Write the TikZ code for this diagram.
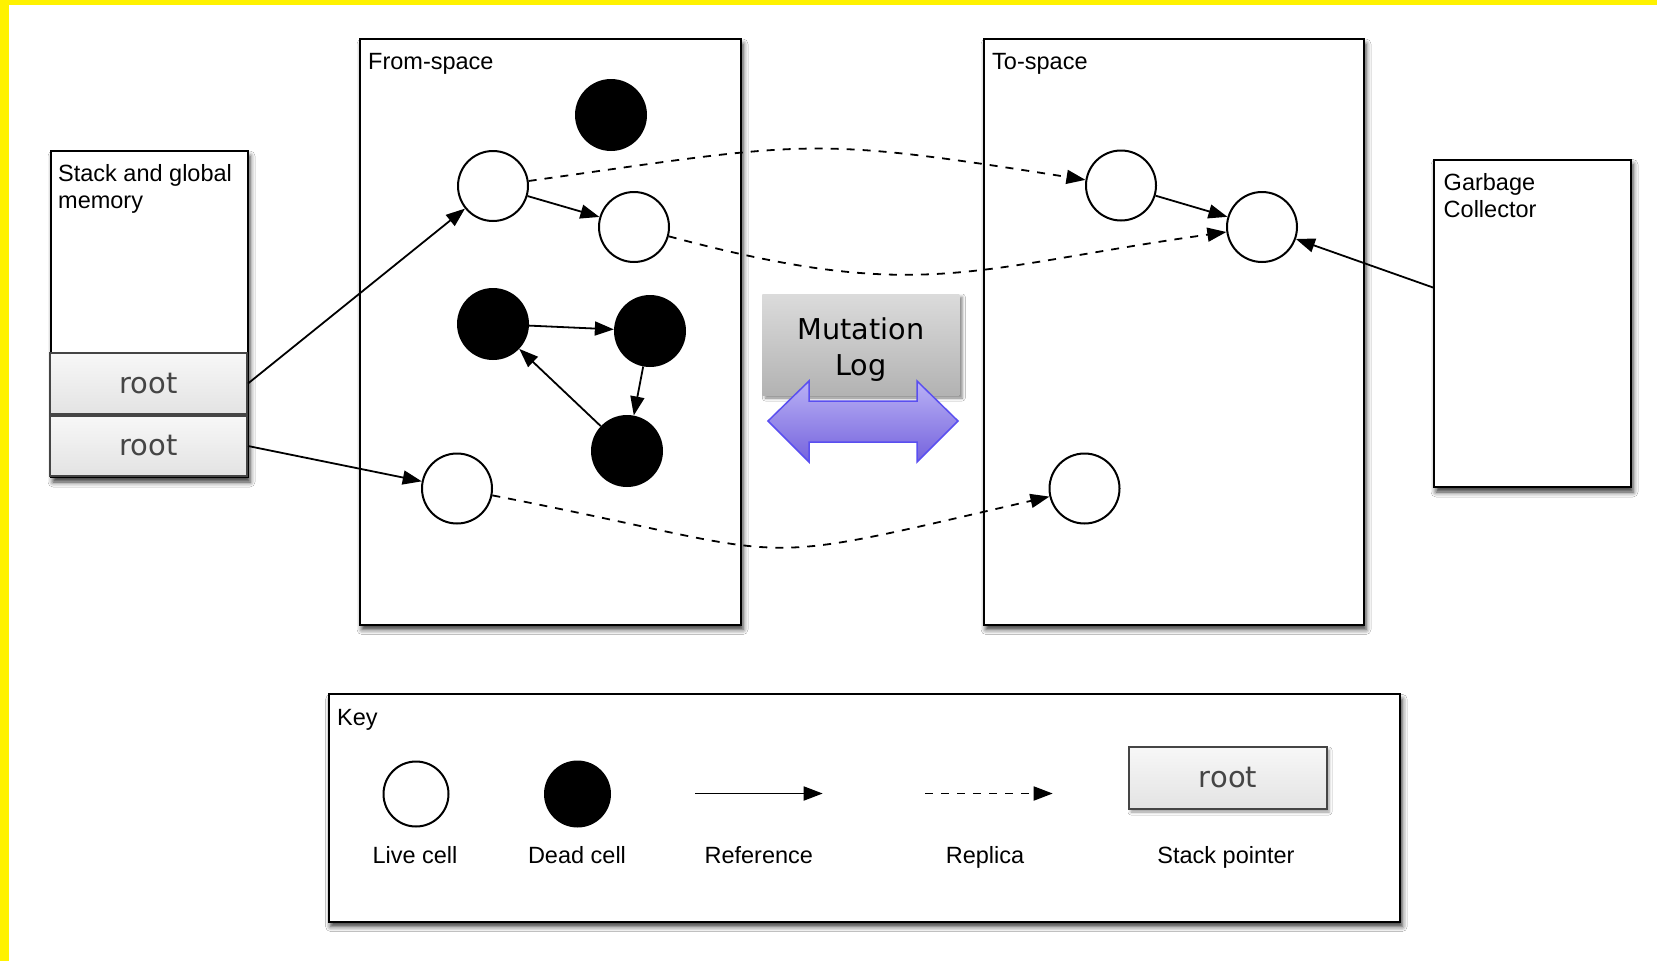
\documentclass[tikz,border=0pt]{standalone}
\usepackage{fontspec}
\setmainfont{Liberation Sans}
\newfontfamily\logfont{DejaVu Sans}
\usetikzlibrary{arrows.meta,calc,shadows.blur}

\definecolor{rootgray}{HTML}{454545}
\definecolor{logline}{HTML}{5A4FF0}
\definecolor{logtop}{HTML}{B9B1F5}
\definecolor{logbot}{HTML}{7563DD}

\begin{document}
\begin{tikzpicture}[x=1pt,y=-1pt,
	every node/.style={font=\fontsize{23.5}{27.5}\selectfont},
	space/.style={draw,line width=2pt,fill=white,anchor=north west,inner sep=0pt,
		blur shadow={shadow xshift=2pt,shadow yshift=-5pt,shadow blur radius=5pt,shadow opacity=80}},
	rootbox/.style={draw=rootgray,line width=2pt,top color=black!3,bottom color=black!11,
		minimum width=197pt,minimum height=61pt,inner sep=0pt,text=rootgray,
		font=\logfont\fontsize{29}{34}\selectfont},
	live/.style={circle,draw,line width=2pt,fill=white,minimum size=70pt,inner sep=0pt},
	dead/.style={circle,fill=black,minimum size=72pt,inner sep=0pt},
	ref/.style={line width=1.8pt,-{Triangle[length=19pt,width=14pt]}},
	rep/.style={ref,dash pattern=on 8pt off 8pt}]
		\useasboundingbox (0,0) rectangle (1657,961);
		\fill[white] (0,0) rectangle (1657,961);
		\fill[yellow] (0,0) rectangle (9,961);
		\fill[yellow] (0,0) rectangle (1657,5);

		% boxes
		\node[space,minimum width=197pt,minimum height=326pt] (stack) at (50,150) {};
		\node[space,minimum width=381pt,minimum height=585.5pt] (from) at (359,38) {};
		\node[space,minimum width=380pt,minimum height=585.5pt] (to) at (983,38) {};
		\node[space,minimum width=197pt,minimum height=327.5pt] (gc) at (1433,158.5) {};
		\node[space,minimum width=1071.6pt,minimum height=227.2pt] (key) at (327.6,693.3) {};
		\node[rootbox] (root1) at (148.5,383.5) {root};
		\node[rootbox,minimum height=60pt] (root2) at (148.5,446) {root};

		\node[anchor=north west,align=left,inner sep=0pt] (stacklbl) at (58,164) {Stack and global\\memory};
		\node[anchor=base west,inner sep=0pt] (fromlbl) at (368,69) {From-space};
		\node[anchor=base west,inner sep=0pt] (tolbl) at (992,69) {To-space};
		\node[anchor=north west,align=left,inner sep=0pt] (gclbl) at (1443.5,173) {Garbage\\Collector};
		\node[anchor=base west,inner sep=0pt] (keylbl) at (337,725) {Key};

		% cells
		\node[live] (fa) at (493,186) {};
		\node[live] (fb) at (634,227) {};
		\node[dead] (fd0) at (611,115) {};
		\node[dead] (fd1) at (493,324) {};
		\node[dead] (fd2) at (650,331) {};
		\node[dead] (fd3) at (627,451) {};
		\node[live] (fc) at (457,488.5) {};
		\node[live] (ta) at (1121,185.5) {};
		\node[live] (tb) at (1262,227) {};
		\node[live] (tc) at (1084.5,488.5) {};
		\coordinate (gcin) at (1433,287.5);

		\draw[ref] (root1.east) -- (fa);
		\draw[ref] (root2.east) -- (fc);
		\draw[ref] (fa) -- (fb);
		\draw[ref] (fd1) -- (fd2);
		\draw[ref] (fd2) -- (fd3);
		\draw[ref] (fd3) -- (fd1);
		\draw[ref] (ta) -- (tb);
		\draw[ref] (gcin) -- (tb);
		\draw[rep] (fa) to[out=8,in=171,looseness=1.3] (ta);
		\draw[rep] (fb) to[out=-15,in=188,looseness=1.2] (tb);
		\draw[rep] (fc) to[out=-11,in=193,looseness=1.5] (tc);

		% mutation log
		\node[top color=black!14,bottom color=black!30,minimum width=197pt,minimum height=101pt,inner sep=0pt,
			blur shadow={shadow xshift=3pt,shadow yshift=-3pt,shadow blur radius=3pt,shadow opacity=50}] (mutlog) at (860.8,344.5) {};
		\node[anchor=north,align=center,inner sep=0pt,font=\logfont\fontsize{28.7}{36.7}\selectfont] (mutlbl) at (860.8,317) {Mutation\\Log};
		\draw[line width=1.5pt,draw=logline,top color=logtop,bottom color=logbot]
			(768,421) -- (809,381) -- (809,401) -- (917,401) -- (917,381) -- (958,421)
			-- (917,462) -- (917,442) -- (809,442) -- (809,462) -- cycle;

		% key
		\node[live,minimum size=65pt] (klive) at (416,794) {};
		\node[dead,minimum size=67pt] (kdead) at (577.5,794) {};
		\coordinate (kref1) at (695,793.5);
		\coordinate (kref2) at (822.7,793.5);
		\coordinate (krep1) at (925,793.5);
		\coordinate (krep2) at (1052.7,793.5);
		\draw[ref] (kref1) -- (kref2);
		\draw[rep] (krep1) -- (krep2);
		\node[rootbox,minimum width=198pt,minimum height=62pt,
			blur shadow={shadow xshift=2pt,shadow yshift=-3pt,shadow blur radius=3pt,shadow opacity=40}] (kroot) at (1228,778) {root};
		\node[anchor=base] (livelbl) at (415,863) {Live cell};
		\node[anchor=base] (deadlbl) at (577,863) {Dead cell};
		\node[anchor=base] (reflbl) at (758.8,863) {Reference};
		\node[anchor=base] (replbl) at (985,863) {Replica};
		\node[anchor=base] (stptlbl) at (1226,863) {Stack pointer};
\end{tikzpicture}
\end{document}
